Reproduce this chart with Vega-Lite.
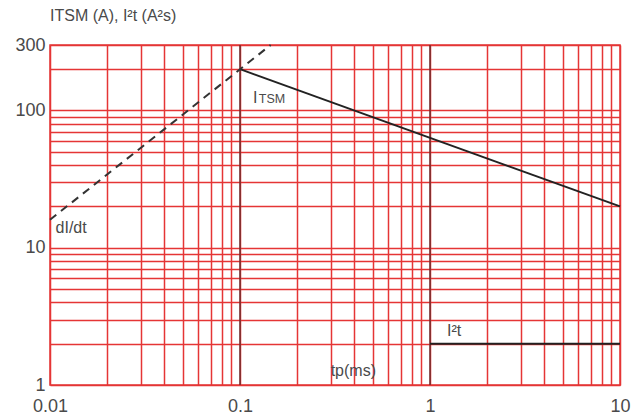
{
  "$schema": "https://vega.github.io/schema/vega-lite/v6.json",
  "width": 570,
  "height": 340,
  "autosize": "none",
  "padding": {"left": 50, "top": 45, "right": 14, "bottom": 31},
  "background": "white",
  "config": {
    "view": {"stroke": "#e23a3a", "strokeWidth": 1.5},
    "font": "Liberation Sans",
    "text": {"font": "Liberation Sans", "color": "#4a4a4a"}
  },
  "title": {
    "text": "ITSM (A), I²t (A²s)",
    "anchor": "start",
    "frame": "group",
    "offset": 12,
    "fontSize": 16,
    "fontWeight": "normal",
    "font": "Liberation Sans",
    "color": "#4a4a4a"
  },
  "layer": [
    {
      "data": {"values": [{"t": 0.1}, {"t": 1}]},
      "mark": {"type": "rule", "color": "#6a2c2c", "strokeWidth": 1.5},
      "encoding": {
        "x": {
          "field": "t",
          "type": "quantitative",
          "scale": {"type": "log", "domain": [0.01, 10], "nice": false},
          "axis": {
            "values": [0.01,0.02,0.03,0.04,0.05,0.06,0.07,0.08,0.09,0.1,0.2,0.3,0.4,0.5,0.6,0.7,0.8,0.9,1,2,3,4,5,6,7,8,9,10],
            "labelExpr": "datum.value == 0.01 ? '0.01' : datum.value == 0.1 ? '0.1' : datum.value == 1 ? '1' : datum.value == 10 ? '10' : ''",
            "grid": true,
            "gridColor": "#e53535",
            "gridWidth": 1.5,
            "gridOpacity": 1,
            "ticks": false,
            "domain": false,
            "labelFlush": false,
            "labelOverlap": false,
            "labelFontSize": 18,
            "labelColor": "#4a4a4a",
            "labelPadding": 12,
            "title": null
          }
        }
      }
    },
    {
      "data": {"values": [{"t": 0.1, "v": 200}, {"t": 10, "v": 20}]},
      "mark": {"type": "line", "color": "#222222", "strokeWidth": 2},
      "encoding": {
        "x": {"field": "t", "type": "quantitative", "scale": {"type": "log", "domain": [0.01, 10], "nice": false}},
        "y": {
          "field": "v",
          "type": "quantitative",
          "scale": {"type": "log", "domain": [1, 300], "nice": false},
          "axis": {
            "values": [1,2,3,4,5,6,7,8,9,10,20,30,40,50,60,70,80,90,100,200,300],
            "labelExpr": "datum.value == 1 ? '1' : datum.value == 10 ? '10' : datum.value == 100 ? '100' : datum.value == 300 ? '300' : ''",
            "grid": true,
            "gridColor": "#e53535",
            "gridWidth": 1.5,
            "gridOpacity": 1,
            "ticks": false,
            "domain": false,
            "labelOverlap": false,
            "labelFontSize": 18,
            "labelColor": "#4a4a4a",
            "labelPadding": 5,
            "title": null
          }
        }
      }
    },
    {
      "data": {"values": [{"t": 0.01, "v": 16}, {"t": 0.145, "v": 300}]},
      "mark": {"type": "line", "color": "#333333", "strokeWidth": 2, "strokeDash": [8, 6]},
      "encoding": {
        "x": {"field": "t", "type": "quantitative"},
        "y": {"field": "v", "type": "quantitative"}
      }
    },
    {
      "data": {"values": [{"t": 1, "v": 2}, {"t": 10, "v": 2}]},
      "mark": {"type": "line", "color": "#222222", "strokeWidth": 2},
      "encoding": {
        "x": {"field": "t", "type": "quantitative"},
        "y": {"field": "v", "type": "quantitative"}
      }
    },
    {
      "data": {"values": [
        {"t": 0.117, "v": 126, "label": "I"},
        {"t": 0.0107, "v": 14.2, "label": "dI/dt"},
        {"t": 1.23, "v": 2.52, "label": "I²t"},
        {"t": 0.30, "v": 1.29, "label": "tp(ms)"}
      ]},
      "mark": {"type": "text", "align": "left", "baseline": "alphabetic", "dy": 6, "fontSize": 16, "color": "#4a4a4a"},
      "encoding": {
        "x": {"field": "t", "type": "quantitative"},
        "y": {"field": "v", "type": "quantitative"},
        "text": {"field": "label"}
      }
    },
    {
      "data": {"values": [{"t": 0.1255, "v": 126, "label": "TSM"}]},
      "mark": {"type": "text", "align": "left", "baseline": "alphabetic", "dy": 6, "fontSize": 12.5, "color": "#4a4a4a"},
      "encoding": {
        "x": {"field": "t", "type": "quantitative"},
        "y": {"field": "v", "type": "quantitative"},
        "text": {"field": "label"}
      }
    }
  ]
}
